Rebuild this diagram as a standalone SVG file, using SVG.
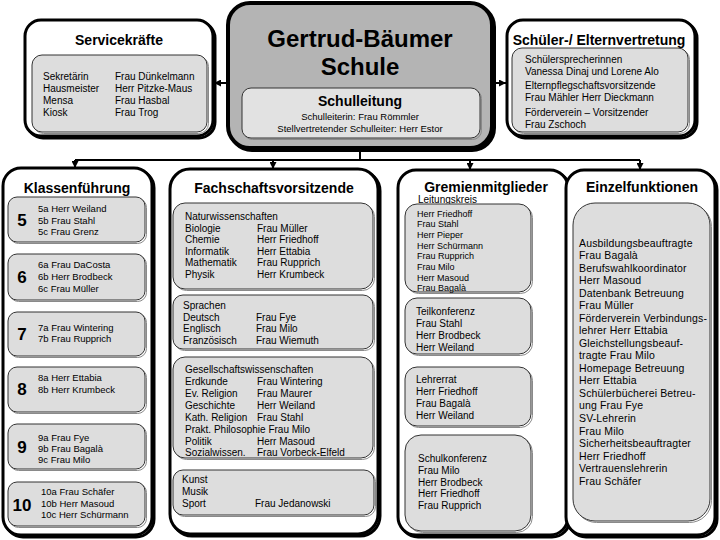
<svg xmlns="http://www.w3.org/2000/svg" width="720" height="540" viewBox="0 0 720 540">
<style>
.outer{fill:#fff;stroke:#000;stroke-width:3}
.shadow{fill:none;stroke:#000;stroke-width:3}
.inner{fill:#dddddd;stroke:#333;stroke-width:1}
.ishadow{fill:none;stroke:#8a8a8a;stroke-width:1}
text{font-family:"Liberation Sans",Arial,Helvetica,sans-serif;fill:#000}
.t{font-size:10px}
.s{font-size:9.5px}
.x{font-size:9px}
.e{font-size:10.5px;letter-spacing:0.15px}
.h{font-size:14px;font-weight:bold;text-anchor:middle}
.num{font-size:17px;font-weight:bold;text-anchor:middle}
.conn{stroke:#000;stroke-width:2;fill:none}
</style>
<defs>
<marker id="arr" viewBox="0 0 10 10" refX="10" refY="5" markerWidth="3.5" markerHeight="3.5" orient="auto">
<path d="M0,0 L10,5 L0,10 z" fill="#000"/>
</marker>
</defs>

<g id="connectors">
<line class="conn" x1="228" y1="83" x2="214" y2="83" marker-end="url(#arr)"/>
<line class="conn" x1="492" y1="83" x2="506" y2="83" marker-end="url(#arr)"/>
<line class="conn" x1="360" y1="150" x2="360" y2="160"/>
<line class="conn" x1="75" y1="160" x2="640" y2="160"/>
<line class="conn" x1="75" y1="160" x2="75" y2="168" marker-end="url(#arr)"/>
<line class="conn" x1="273" y1="160" x2="273" y2="169" marker-end="url(#arr)"/>
<line class="conn" x1="470" y1="160" x2="470" y2="170" marker-end="url(#arr)"/>
<line class="conn" x1="640" y1="160" x2="640" y2="170" marker-end="url(#arr)"/>
</g>

<g id="servicekraefte">
<rect class="shadow" x="27" y="22" width="188" height="116" rx="16"/>
<rect class="outer" x="25" y="20" width="188" height="116" rx="16"/>
<text class="h" x="119" y="45">Servicekräfte</text>
<rect class="ishadow" x="33.5" y="56.5" width="175" height="77" rx="10"/>
<rect class="inner" x="32" y="55" width="175" height="77" rx="10"/>
<text class="t" x="43" y="80">Sekretärin</text>
<text class="t" x="43" y="92">Hausmeister</text>
<text class="t" x="43" y="104">Mensa</text>
<text class="t" x="43" y="116">Kiosk</text>
<text class="t" x="115" y="80">Frau Dünkelmann</text>
<text class="t" x="115" y="92">Herr Pitzke-Maus</text>
<text class="t" x="115" y="104">Frau Hasbal</text>
<text class="t" x="115" y="116">Frau Trog</text>
</g>

<g id="schule">
<rect x="230" y="5" width="264" height="145" rx="22" fill="none" stroke="#000" stroke-width="4"/>
<rect x="228" y="3" width="264" height="145" rx="22" fill="#b4b4b4" stroke="#000" stroke-width="4"/>
<text x="360" y="47" font-size="24" font-weight="bold" text-anchor="middle">Gertrud-Bäumer</text>
<text x="360" y="75" font-size="24" font-weight="bold" text-anchor="middle">Schule</text>
<rect class="ishadow" x="243.5" y="89.5" width="238" height="50" rx="9"/>
<rect x="242" y="88" width="238" height="50" rx="9" fill="#e2e2e2" stroke="#333" stroke-width="1"/>
<text class="h" x="360" y="106">Schulleitung</text>
<text class="s" x="360" y="120" text-anchor="middle">Schulleiterin: Frau Römmler</text>
<text class="s" x="360" y="132" text-anchor="middle">Stellvertretender Schulleiter: Herr Estor</text>
</g>

<g id="vertretung">
<rect class="shadow" x="509" y="22" width="188" height="116" rx="16"/>
<rect class="outer" x="507" y="20" width="188" height="116" rx="16"/>
<text class="h" x="599" y="45">Schüler-/ Elternvertretung</text>
<rect class="ishadow" x="513.5" y="49.5" width="176" height="84" rx="10"/>
<rect class="inner" x="512" y="48" width="176" height="84" rx="10"/>
<text class="t" x="525" y="63">Schülersprecherinnen</text>
<text class="t" x="525" y="75">Vanessa Dinaj und Lorene Alo</text>
<text class="t" x="525" y="89">Elternpflegschaftsvorsitzende</text>
<text class="t" x="525" y="101">Frau Mähler Herr Dieckmann</text>
<text class="t" x="525" y="116">Förderverein – Vorsitzender</text>
<text class="t" x="525" y="128">Frau Zschoch</text>
</g>

<g id="klassen">
<rect class="shadow" x="5" y="170" width="149" height="367" rx="18"/>
<rect class="outer" x="3" y="168" width="149" height="367" rx="18"/>
<text class="h" x="77" y="193">Klassenführung</text>
<rect class="ishadow" x="9.5" y="198.5" width="137" height="45" rx="9"/>
<rect class="inner" x="8" y="197" width="137" height="45" rx="9"/>
<text class="num" x="22" y="226">5</text>
<text class="s" x="38" y="212">5a Herr Weiland</text>
<text class="s" x="38" y="223.5">5b Frau Stahl</text>
<text class="s" x="38" y="235">5c Frau Grenz</text>
<rect class="ishadow" x="9.5" y="255.5" width="137" height="46" rx="9"/>
<rect class="inner" x="8" y="254" width="137" height="46" rx="9"/>
<text class="num" x="22" y="283">6</text>
<text class="s" x="38" y="268">6a Frau DaCosta</text>
<text class="s" x="38" y="280">6b Herr Brodbeck</text>
<text class="s" x="38" y="292">6c Frau Müller</text>
<rect class="ishadow" x="9.5" y="313.5" width="137" height="44" rx="9"/>
<rect class="inner" x="8" y="312" width="137" height="44" rx="9"/>
<text class="num" x="22" y="340">7</text>
<text class="s" x="38" y="331">7a Frau Wintering</text>
<text class="s" x="38" y="342">7b Frau Rupprich</text>
<rect class="ishadow" x="9.5" y="368.5" width="137" height="45" rx="9"/>
<rect class="inner" x="8" y="367" width="137" height="45" rx="9"/>
<text class="num" x="22" y="395">8</text>
<text class="s" x="38" y="381">8a Herr Ettabia</text>
<text class="s" x="38" y="393">8b Herr Krumbeck</text>
<rect class="ishadow" x="9.5" y="425.5" width="137" height="45" rx="9"/>
<rect class="inner" x="8" y="424" width="137" height="45" rx="9"/>
<text class="num" x="22" y="453">9</text>
<text class="s" x="38" y="441">9a Frau Fye</text>
<text class="s" x="38" y="452">9b Frau Bagalà</text>
<text class="s" x="38" y="463">9c Frau Milo</text>
<rect class="ishadow" x="9.5" y="483.5" width="137" height="44" rx="9"/>
<rect class="inner" x="8" y="482" width="137" height="44" rx="9"/>
<text class="num" x="22" y="511" font-size="18">10</text>
<text class="s" x="41" y="495">10a Frau Schäfer</text>
<text class="s" x="41" y="507">10b Herr Masoud</text>
<text class="s" x="41" y="518">10c Herr Schürmann</text>
</g>

<g id="fachschaften">
<rect class="shadow" x="172" y="171" width="208" height="365" rx="20"/>
<rect class="outer" x="170" y="169" width="208" height="365" rx="20"/>
<text class="h" x="274" y="193">Fachschaftsvorsitzende</text>
<rect class="ishadow" x="174.5" y="204.5" width="200" height="86" rx="12"/>
<rect class="inner" x="173" y="203" width="200" height="86" rx="12"/>
<text class="t" x="185" y="220">Naturwissenschaften</text>
<text class="t" x="185" y="231.5">Biologie</text>
<text class="t" x="185" y="243">Chemie</text>
<text class="t" x="185" y="254.5">Informatik</text>
<text class="t" x="185" y="266">Mathematik</text>
<text class="t" x="185" y="277.5">Physik</text>
<text class="t" x="257" y="231.5">Frau Müller</text>
<text class="t" x="257" y="243">Herr Friedhoff</text>
<text class="t" x="257" y="254.5">Herr Ettabia</text>
<text class="t" x="257" y="266">Frau Rupprich</text>
<text class="t" x="257" y="277.5">Herr Krumbeck</text>
<rect class="ishadow" x="174.5" y="296.5" width="200" height="54" rx="10"/>
<rect class="inner" x="173" y="295" width="200" height="54" rx="10"/>
<text class="t" x="183" y="309">Sprachen</text>
<text class="t" x="183" y="320.5">Deutsch</text>
<text class="t" x="183" y="332">Englisch</text>
<text class="t" x="183" y="343.5">Französisch</text>
<text class="t" x="256" y="320.5">Frau Fye</text>
<text class="t" x="256" y="332">Frau Milo</text>
<text class="t" x="256" y="343.5">Frau Wiemuth</text>
<rect class="ishadow" x="174.5" y="358.5" width="200" height="101" rx="12"/>
<rect class="inner" x="173" y="357" width="200" height="101" rx="12"/>
<text class="t" x="185" y="372.5">Gesellschaftswissenschaften</text>
<text class="t" x="185" y="384.5">Erdkunde</text>
<text class="t" x="185" y="396.5">Ev. Religion</text>
<text class="t" x="185" y="408.5">Geschichte</text>
<text class="t" x="185" y="420.5">Kath. Religion</text>
<text class="t" x="185" y="432.5">Prakt. Philosophie Frau Milo</text>
<text class="t" x="185" y="444.5">Politik</text>
<text class="t" x="185" y="456">Sozialwissen.</text>
<text class="t" x="257" y="384.5">Frau Wintering</text>
<text class="t" x="257" y="396.5">Frau Maurer</text>
<text class="t" x="257" y="408.5">Herr Weiland</text>
<text class="t" x="257" y="420.5">Frau Stahl</text>
<text class="t" x="257" y="444.5">Herr Masoud</text>
<text class="t" x="257" y="456">Frau Vorbeck-Elfeld</text>
<rect class="ishadow" x="174.5" y="471.5" width="201" height="45" rx="10"/>
<rect class="inner" x="173" y="470" width="201" height="45" rx="10"/>
<text class="t" x="182" y="483">Kunst</text>
<text class="t" x="182" y="495">Musik</text>
<text class="t" x="182" y="507">Sport</text>
<text class="t" x="255" y="507">Frau Jedanowski</text>
</g>

<g id="gremien">
<rect class="shadow" x="400" y="172" width="170" height="365" rx="18"/>
<rect class="outer" x="398" y="170" width="170" height="365" rx="18"/>
<text class="h" x="486" y="192" font-size="16.5">Gremienmitglieder</text>
<text class="t" x="418" y="203" text-decoration="underline">Leitungskreis</text>
<rect class="ishadow" x="406.5" y="205.5" width="126" height="88" rx="12"/>
<rect class="inner" x="405" y="204" width="126" height="88" rx="12"/>
<text class="x" x="417" y="216.5">Herr Friedhoff</text>
<text class="x" x="417" y="227.2">Frau Stahl</text>
<text class="x" x="417" y="237.9">Herr Pieper</text>
<text class="x" x="417" y="248.6">Herr Schürmann</text>
<text class="x" x="417" y="259.3">Frau Rupprich</text>
<text class="x" x="417" y="270">Frau Milo</text>
<text class="x" x="417" y="280.7">Herr Masoud</text>
<text class="x" x="417" y="291">Frau Bagalà</text>
<rect class="ishadow" x="406.5" y="299.5" width="126" height="56" rx="12"/>
<rect class="inner" x="405" y="298" width="126" height="56" rx="12"/>
<text class="t" x="416" y="315">Teilkonferenz</text>
<text class="t" x="416" y="327">Frau Stahl</text>
<text class="t" x="416" y="339">Herr Brodbeck</text>
<text class="t" x="416" y="351">Herr Weiland</text>
<rect class="ishadow" x="406.5" y="368.5" width="126" height="59" rx="12"/>
<rect class="inner" x="405" y="367" width="126" height="59" rx="12"/>
<text class="t" x="416" y="383">Lehrerrat</text>
<text class="t" x="416" y="395">Herr Friedhoff</text>
<text class="t" x="416" y="407">Frau Bagalà</text>
<text class="t" x="416" y="418.5">Herr Weiland</text>
<rect class="ishadow" x="406.5" y="436.5" width="126" height="96" rx="16"/>
<rect class="inner" x="405" y="435" width="126" height="96" rx="16"/>
<text class="t" x="418" y="462">Schulkonferenz</text>
<text class="t" x="418" y="474">Frau Milo</text>
<text class="t" x="418" y="485.5">Herr Brodbeck</text>
<text class="t" x="418" y="497">Herr Friedhoff</text>
<text class="t" x="418" y="509">Frau Rupprich</text>
</g>

<g id="einzelfunktionen">
<rect class="shadow" x="568" y="172" width="149" height="365" rx="18"/>
<rect class="outer" x="566" y="170" width="149" height="365" rx="18"/>
<text class="h" x="642" y="192">Einzelfunktionen</text>
<rect class="ishadow" x="574.5" y="204.5" width="137" height="318" rx="22"/>
<rect class="inner" x="573" y="203" width="137" height="318" rx="22"/>
<text class="e" x="579" y="246.5">Ausbildungsbeauftragte</text>
<text class="e" x="579" y="259">Frau Bagalà</text>
<text class="e" x="579" y="271.6">Berufswahlkoordinator</text>
<text class="e" x="579" y="284.1">Herr Masoud</text>
<text class="e" x="579" y="296.6">Datenbank Betreuung</text>
<text class="e" x="579" y="309.2">Frau Müller</text>
<text class="e" x="579" y="321.7">Förderverein Verbindungs-</text>
<text class="e" x="579" y="334.2">lehrer  Herr Ettabia</text>
<text class="e" x="579" y="346.7">Gleichstellungsbeauf-</text>
<text class="e" x="579" y="359.3">tragte Frau Milo</text>
<text class="e" x="579" y="371.8">Homepage Betreuung</text>
<text class="e" x="579" y="384.3">Herr Ettabia</text>
<text class="e" x="579" y="396.9">Schülerbücherei Betreu-</text>
<text class="e" x="579" y="409.4">ung Frau Fye</text>
<text class="e" x="579" y="421.9">SV-Lehrerin</text>
<text class="e" x="579" y="434.5">Frau Milo</text>
<text class="e" x="579" y="447">Sicherheitsbeauftragter</text>
<text class="e" x="579" y="459.5">Herr Friedhoff</text>
<text class="e" x="579" y="472">Vertrauenslehrerin</text>
<text class="e" x="579" y="484.6">Frau Schäfer</text>
</g>
</svg>
